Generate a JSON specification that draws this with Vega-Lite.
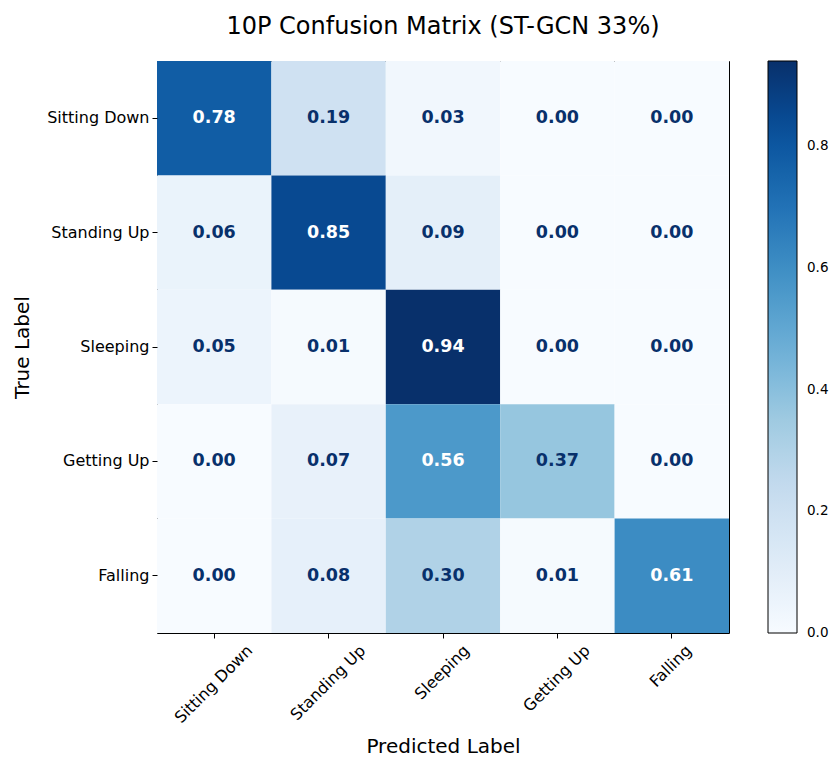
{
  "$schema": "https://vega.github.io/schema/vega-lite/v6.json",
  "width": 572,
  "height": 572,
  "autosize": "none",
  "padding": {"left": 157, "top": 61, "right": 101, "bottom": 125},
  "background": "white",
  "config": {
    "font": "DejaVu Sans",
    "view": {"stroke": "black", "strokeWidth": 1},
    "axis": {"domain": false, "tickColor": "black", "tickSize": 5, "labelColor": "black", "labelFont": "DejaVu Sans", "labelFontSize": 16, "titleFont": "DejaVu Sans", "titleFontSize": 20, "titleFontWeight": "normal", "titleColor": "black", "grid": false}
  },
  "title": {"text": "10P Confusion Matrix (ST-GCN 33%)", "fontSize": 24, "fontWeight": "normal", "font": "DejaVu Sans", "color": "black", "offset": 22, "anchor": "middle"},
  "data": {"values": [
    {"true": "Sitting Down", "pred": "Sitting Down", "v": 0.78},
    {"true": "Sitting Down", "pred": "Standing Up", "v": 0.19},
    {"true": "Sitting Down", "pred": "Sleeping", "v": 0.03},
    {"true": "Sitting Down", "pred": "Getting Up", "v": 0.0},
    {"true": "Sitting Down", "pred": "Falling", "v": 0.0},
    {"true": "Standing Up", "pred": "Sitting Down", "v": 0.06},
    {"true": "Standing Up", "pred": "Standing Up", "v": 0.85},
    {"true": "Standing Up", "pred": "Sleeping", "v": 0.09},
    {"true": "Standing Up", "pred": "Getting Up", "v": 0.0},
    {"true": "Standing Up", "pred": "Falling", "v": 0.0},
    {"true": "Sleeping", "pred": "Sitting Down", "v": 0.05},
    {"true": "Sleeping", "pred": "Standing Up", "v": 0.01},
    {"true": "Sleeping", "pred": "Sleeping", "v": 0.94},
    {"true": "Sleeping", "pred": "Getting Up", "v": 0.0},
    {"true": "Sleeping", "pred": "Falling", "v": 0.0},
    {"true": "Getting Up", "pred": "Sitting Down", "v": 0.0},
    {"true": "Getting Up", "pred": "Standing Up", "v": 0.07},
    {"true": "Getting Up", "pred": "Sleeping", "v": 0.56},
    {"true": "Getting Up", "pred": "Getting Up", "v": 0.37},
    {"true": "Getting Up", "pred": "Falling", "v": 0.0},
    {"true": "Falling", "pred": "Sitting Down", "v": 0.0},
    {"true": "Falling", "pred": "Standing Up", "v": 0.08},
    {"true": "Falling", "pred": "Sleeping", "v": 0.30},
    {"true": "Falling", "pred": "Getting Up", "v": 0.01},
    {"true": "Falling", "pred": "Falling", "v": 0.61}
  ]},
  "encoding": {
    "x": {"field": "pred", "type": "nominal", "sort": ["Sitting Down", "Standing Up", "Sleeping", "Getting Up", "Falling"],
      "scale": {"paddingInner": 0, "paddingOuter": 0},
      "axis": {"title": "Predicted Label", "labelAngle": -45, "labelAlign": "right", "labelBaseline": "top", "labelPadding": 4, "titlePadding": 11,
        "labelOffset": {"expr": "0.354 * ((datum.label == 'Sitting Down' ? 101 : datum.label == 'Standing Up' ? 97 : datum.label == 'Sleeping' ? 67 : datum.label == 'Getting Up' ? 85 : 48) - 16)"}}},
    "y": {"field": "true", "type": "nominal", "sort": ["Sitting Down", "Standing Up", "Sleeping", "Getting Up", "Falling"],
      "scale": {"paddingInner": 0, "paddingOuter": 0},
      "axis": {"title": "True Label", "labelPadding": 3, "titlePadding": 14}}
  },
  "layer": [
    {
      "mark": {"type": "rect"},
      "encoding": {
        "color": {"field": "v", "type": "quantitative",
          "scale": {"domain": [0, 0.1175, 0.235, 0.3525, 0.47, 0.5875, 0.705, 0.8225, 0.94],
                    "range": ["#f7fbff", "#deebf7", "#c6dbef", "#9ecae1", "#6baed6", "#4292c6", "#2171b5", "#08519c", "#08306b"],
                    "interpolate": "rgb"},
          "legend": {"title": null, "orient": "right", "offset": 39, "gradientLength": 572, "gradientThickness": 29,
                     "gradientStrokeColor": "black", "gradientStrokeWidth": 1,
                     "values": [0, 0.2, 0.4, 0.6, 0.8], "format": ".1f", "labelFontSize": 13.5, "labelColor": "black",
                     "labelOffset": 10, "labelBaseline": "middle", "labelFont": "DejaVu Sans",
                     "encode": {"labels": {"update": {"baseline": {"value": "middle"}}}}}}
      }
    },
    {
      "mark": {"type": "text", "fontWeight": "bold", "fontSize": 17.5, "font": "DejaVu Sans"},
      "encoding": {
        "text": {"field": "v", "type": "quantitative", "format": ".2f"},
        "color": {"condition": {"test": "datum.v > 0.47", "value": "white"}, "value": "#08306b"}
      }
    }
  ]
}
